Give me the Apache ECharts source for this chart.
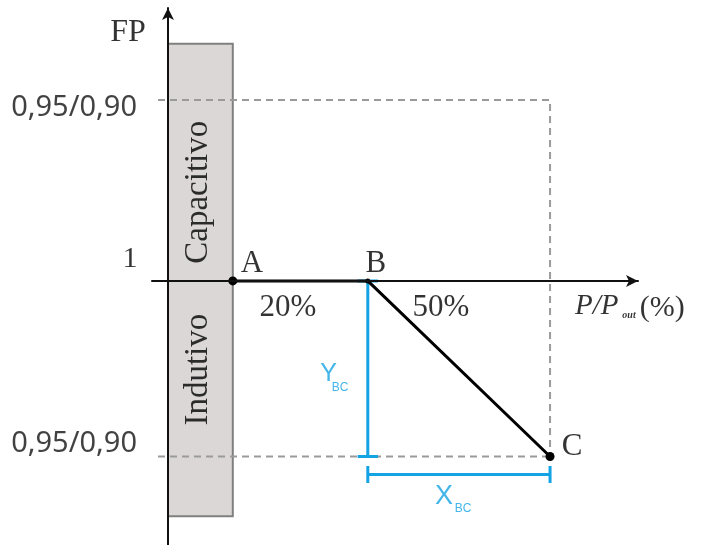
<!DOCTYPE html>
<html>
<head>
<meta charset="utf-8">
<script src="https://cdn.jsdelivr.net/npm/echarts@6/dist/echarts.min.js"></script>
<style>
  html, body { margin: 0; padding: 0; background: #fff; }
  #chart { width: 702px; height: 545px; }
</style>
</head>
<body>
<div id="chart"></div>
<script>
// ---- data (chart units: x = P/Pout, y = FP offset from unity) ----
const pointNames = ['A', 'B', 'C'];
const pointX = [9.6, 29.6, 56.6];
const pointY = [0, 0, -0.97];
const fpLevels = [1, 0, -0.97];          // capacitive limit, unity, inductive limit
const fpLabels = ['0,95/0,90', '1', '0,95/0,90'];
const segmentLabels = ['20%', '50%'];
const zoneNames = ['Capacitivo', 'Indutivo'];
const zoneTop = 1.31;
const zoneBottom = -1.30;

const SERIF = '"Liberation Serif", "DejaVu Serif", serif';
const BLUE = '#14a3e4';

// ---- helpers ----
function seg(points, color, width, type) {
  return {
    type: 'line',
    data: points,
    symbol: 'none',
    silent: true,
    z: 3,
    lineStyle: { color: color, width: width, type: type || 'solid', cap: 'butt' },
  };
}

function txt(x, y, text, style) {
  return {
    value: [x, y],
    label: Object.assign({
      show: true,
      formatter: text,
      position: [0, 0],
      align: 'center',
      verticalAlign: 'middle',
      fontFamily: SERIF,
      fontSize: 31,
      color: '#000',
    }, style || {}),
  };
}

// ---- build ----
const ax = pointX[0], bx = pointX[1], cx = pointX[2];
const cy = pointY[2];
const dashLeft = -1.48;

const series = [];

// zone band
series.push({
  type: 'custom',
  z: 1,
  silent: true,
  renderItem: (params, api) => {
    const p0 = api.coord([0, zoneTop]);
    const p1 = api.coord([ax, zoneBottom]);
    return {
      type: 'rect',
      shape: { x: p0[0], y: p0[1], width: p1[0] - p0[0], height: p1[1] - p0[1] },
      style: { fill: '#dbd7d7', stroke: '#808080', lineWidth: 2 },
    };
  },
  data: [[0, 0]],
});

// dashed limits
series.push(seg([[dashLeft, fpLevels[0]], [cx, fpLevels[0]], [cx, fpLevels[2]]], '#9a9a9a', 2, [7, 5]));
series.push(seg([[dashLeft, fpLevels[2]], [cx, fpLevels[2]]], '#9a9a9a', 2, [7, 5]));

// blue dimensions
const yDimCap = 1.5, xDimY = -1.07, xDimCap = 0.047;
series.push(seg([[bx, 0], [bx, cy]], BLUE, 3));
series.push(seg([[bx - yDimCap, 0], [bx + yDimCap, 0]], BLUE, 3));
series.push(seg([[bx - yDimCap, cy], [bx + yDimCap, cy]], BLUE, 3));
series.push(seg([[bx, xDimY], [cx, xDimY]], BLUE, 3));
series.push(seg([[bx, xDimY - xDimCap], [bx, xDimY + xDimCap]], BLUE, 3));
series.push(seg([[cx, xDimY - xDimCap], [cx, xDimY + xDimCap]], BLUE, 3));

// characteristic A-B-C
series.push({
  type: 'line',
  z: 4,
  silent: true,
  data: pointNames.map((n, i) => ({
    value: [pointX[i], pointY[i]],
    symbolSize: i === 1 ? 5 : 9,
  })),
  symbol: 'circle',
  showSymbol: true,
  itemStyle: { color: '#000' },
  lineStyle: { color: '#000', width: 3 },
});

// text annotations
const texts = [
  txt(-5.93, 1.37, 'FP', { fontSize: 32 }),
  txt(-4.59, 0.956, fpLabels[0], { align: 'right', fontFamily: '"Noto Sans"', fontSize: 29, color: '#111' }),
  txt(-5.63, 0.12, fpLabels[1], { fontSize: 30 }),
  txt(-4.59, -0.90, fpLabels[2], { align: 'right', fontFamily: '"Noto Sans"', fontSize: 29, color: '#111' }),
  txt(ax + 2.84, 0.094, pointNames[0]),
  txt(bx + 1.2, 0.094, pointNames[1]),
  txt(cx + 3.25, cy + 0.053, pointNames[2]),
  txt(17.78, -0.149, segmentLabels[0]),
  txt(40.44, -0.149, segmentLabels[1]),
  txt(4.44, 0.49, zoneNames[0], { rotate: 90, fontSize: 33 }),
  txt(4.44, -0.49, zoneNames[1], { rotate: 90, fontSize: 33 }),
  txt(60.3, -0.138, 'P/P', { align: 'left', fontStyle: 'italic', fontSize: 29 }),
  txt(68.3, -0.188, 'out', { fontStyle: 'italic', fontWeight: 'bold', fontSize: 10 }),
  txt(69.9, -0.149, '(%)', { align: 'left', fontSize: 30 }),
  txt(23.78, -0.514, 'Y', { fontFamily: '"Liberation Sans"', fontSize: 25, color: BLUE }),
  txt(25.48, -0.591, 'BC', { fontFamily: '"Liberation Sans"', fontSize: 12, color: BLUE }),
  txt(40.89, -1.193, 'X', { fontFamily: '"Liberation Sans"', fontSize: 27, color: BLUE }),
  txt(43.7, -1.26, 'BC', { fontFamily: '"Liberation Sans"', fontSize: 12, color: BLUE }),
];
series.push({
  type: 'scatter',
  z: 10,
  silent: true,
  clip: false,
  symbolSize: 0,
  data: texts,
});

const axisCommon = {
  type: 'value',
  z: 5,
  axisLine: {
    show: true,
    onZero: true,
    symbol: ['none', 'arrow'],
    symbolSize: [9, 12],
    lineStyle: { color: '#111', width: 2 },
  },
  axisTick: { show: false },
  axisLabel: { show: false },
  splitLine: { show: false },
};

const chart = echarts.init(document.getElementById('chart'));
chart.setOption({
  animation: false,
  backgroundColor: '#fff',
  grid: { left: 152, right: 64, top: 8, bottom: 0 },
  xAxis: Object.assign({}, axisCommon, { min: -2.37, max: 69.63 }),
  yAxis: Object.assign({}, axisCommon, { min: -1.459, max: 1.508 }),
  series: series,
});
</script>
</body>
</html>
